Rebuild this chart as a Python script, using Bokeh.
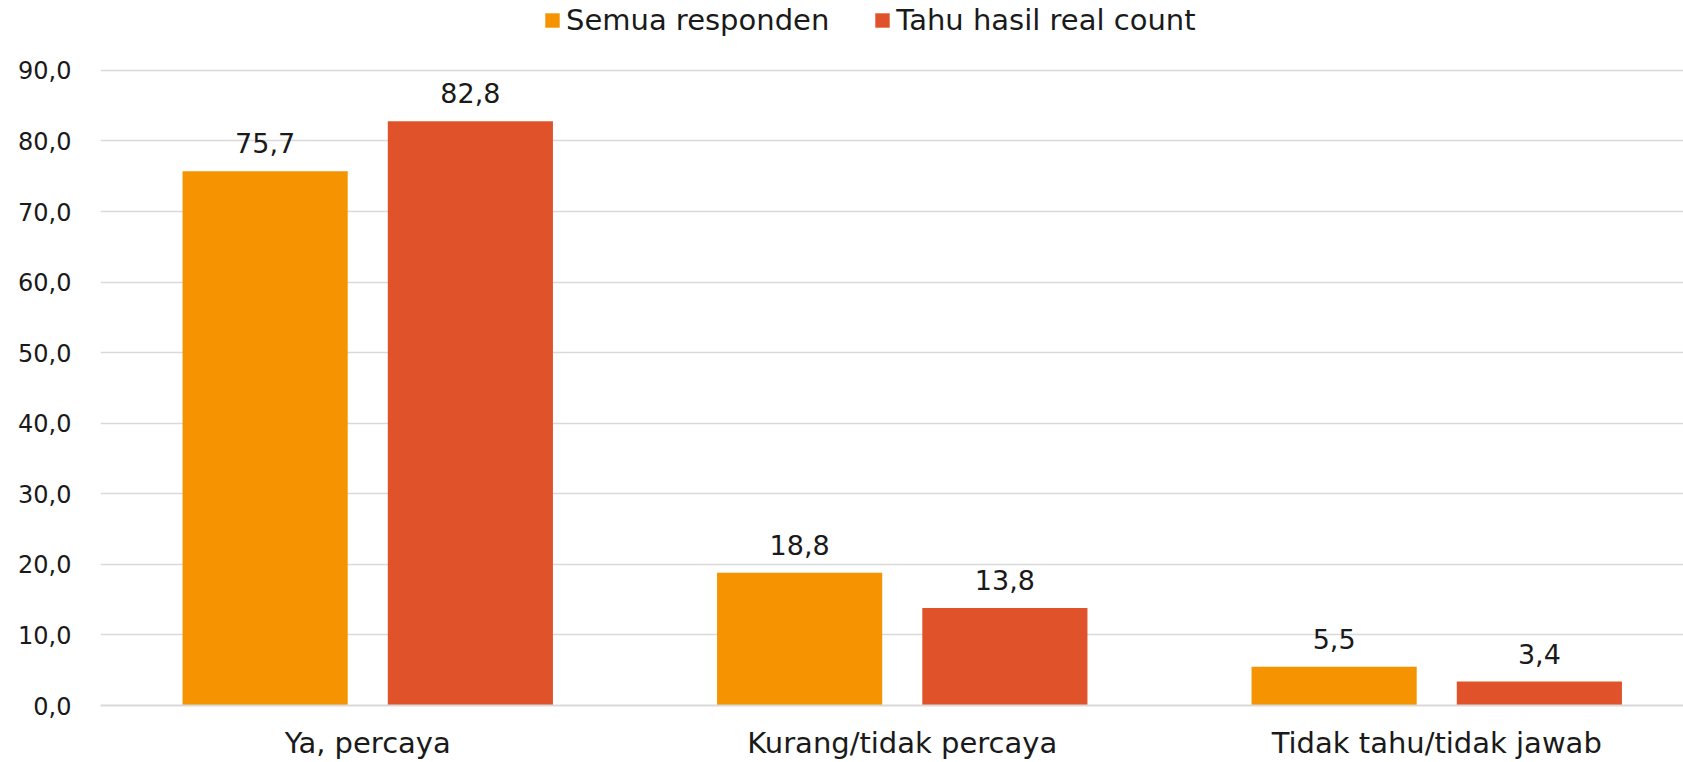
from bokeh.plotting import figure
from bokeh.models import (ColumnDataSource, FixedTicker, LabelSet, Legend, LegendItem, Range1d)
from bokeh.core.properties import value
from bokeh.embed import file_html
from bokeh.resources import INLINE

categories = ["Ya, percaya", "Kurang/tidak percaya", "Tidak tahu/tidak jawab"]
series_names = ["Semua responden", "Tahu hasil real count"]
semua = [75.7, 18.8, 5.5]
tahu = [82.8, 13.8, 3.4]
colors = ["#F59300", "#E0532A"]
y_ticks = [0, 10, 20, 30, 40, 50, 60, 70, 80, 90]

FONT = "DejaVu Sans"

def fmt(v):
    return f"{v:.1f}".replace(".", ",")

W, H = 1683, 762
# frame spans the full height above the axis; 90 sits 70px below the top
y_top = 90 * 706 / 636
p = figure(width=W, height=H, output_backend="svg", toolbar_location=None,
           x_range=Range1d(0, (1683 - 100) / 534.5), y_range=Range1d(0, y_top),
           min_border_left=100, min_border_right=0, min_border_top=0, min_border_bottom=56)
p.outline_line_color = None
p.background_fill_color = "white"
p.border_fill_color = "white"

centers = [i + 0.5 for i in range(len(categories))]
off = 0.192
bw = 0.309
renderers = []
for vals, col, sgn in [(semua, colors[0], -1), (tahu, colors[1], 1)]:
    src = ColumnDataSource(dict(x=[c + sgn * off for c in centers], top=vals,
                                lab=[fmt(v) for v in vals]))
    r = p.vbar(x="x", top="top", bottom=0, width=bw, source=src, fill_color=col, line_color=None)
    renderers.append(r)
    p.add_layout(LabelSet(x="x", y="top", text="lab", source=src, text_align="center",
                          text_baseline="alphabetic", y_offset=18, text_font=value(FONT),
                          text_font_size=value("27px"), text_color="#1a1a1a"))

# axes
p.yaxis.ticker = FixedTicker(ticks=y_ticks)
p.yaxis.major_label_overrides = {t: fmt(t) for t in y_ticks}
p.yaxis.axis_line_color = None
p.yaxis.major_tick_line_color = None
p.yaxis.minor_tick_line_color = None
p.yaxis.major_tick_out = 0
p.yaxis.major_label_standoff = 29
p.yaxis.major_label_text_font = FONT
p.yaxis.major_label_text_font_size = "24px"
p.yaxis.major_label_text_color = "#1a1a1a"

p.xaxis.ticker = FixedTicker(ticks=centers)
p.xaxis.major_label_overrides = {c: n for c, n in zip(centers, categories)}
p.xaxis.axis_line_color = "#D9D9D9"
p.xaxis.axis_line_width = 2
p.xaxis.major_tick_line_color = None
p.xaxis.minor_tick_line_color = None
p.xaxis.major_tick_out = 0
p.xaxis.major_label_standoff = 20
p.xaxis.major_label_text_font = FONT
p.xaxis.major_label_text_font_size = "29px"
p.xaxis.major_label_text_color = "#1a1a1a"

p.xgrid.grid_line_color = None
p.ygrid.grid_line_color = "#D9D9D9"
p.ygrid.grid_line_width = 1.5

legend = Legend(items=[LegendItem(label=n, renderers=[r]) for n, r in zip(series_names, renderers)],
                orientation="horizontal", location=(443, 668), glyph_width=18, glyph_height=18,
                label_standoff=5, spacing=44, padding=0, margin=0, border_line_color=None,
                background_fill_alpha=0, label_text_font=FONT, label_text_font_size="29px",
                label_text_color="#1a1a1a")
p.add_layout(legend, "center")

open("out.html", "w").write(file_html(p, INLINE))
